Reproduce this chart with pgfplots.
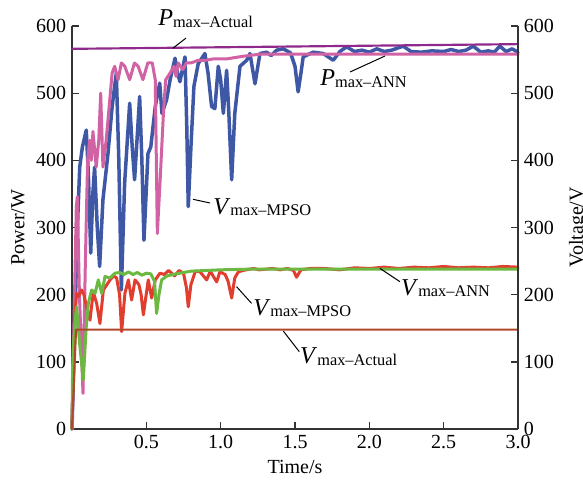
\documentclass[border=0pt]{standalone}
\usepackage{fontspec}
\setmainfont{Liberation Serif}
\usepackage{pgfplots}
\pgfplotsset{compat=1.18}
\definecolor{cblue}{HTML}{3E58A6}
\definecolor{cpink}{HTML}{D163A5}
\definecolor{cpurple}{HTML}{8F2A8C}
\definecolor{cred}{HTML}{E23E30}
\definecolor{cgreen}{HTML}{6CB840}
\definecolor{cbrown}{HTML}{B0482C}
\newcommand{\lab}[2]{{\fontsize{14.5}{16}\selectfont\textit{#1}}\raisebox{-1pt}{\fontsize{9.8}{11}\selectfont #2}}
\begin{document}
\begin{tikzpicture}
\pgfplotsset{
  base/.style={
    at={(0pt,0pt)}, anchor=south west, scale only axis,
    width=267.6pt, height=241.8pt,
    xmin=0, xmax=3, ymin=0, ymax=600,
    tick align=inside, major tick length=4pt,
    ytick={0,100,...,600},
    /pgf/number format/assume math mode=true,
    tick label style={font=\fontsize{12}{14}\selectfont},
    label style={font=\fontsize{12}{14}\selectfont},
    axis line style={line width=0.8pt, black!80},
    every tick/.style={line width=0.8pt, black!80},
  }
}
\begin{axis}[base,
  axis x line*=bottom, axis y line*=left,
  xtick={0.5,1.0,1.5,2.0,2.5,3.0},
  xticklabel style={/pgf/number format/.cd, fixed, fixed zerofill, precision=1},
  xlabel={Time/s}, ylabel={Power/W},
  xlabel style={at={(axis description cs:0.5,-0.0943)}, anchor=center},
  ylabel style={at={(axis description cs:-0.121,0.5)}, anchor=center},
  every axis plot/.append style={line join=round, line cap=round},
  clip=false]
% P max MPSO (blue)
\addplot[cblue, line width=2.1pt] coordinates {
(0,0) (0.030,250) (0.040,321) (0.052,390) (0.070,420) (0.096,445) (0.110,380)
(0.126,262) (0.140,350) (0.152,390) (0.170,300) (0.186,242) (0.208,341) (0.242,410)
(0.270,480) (0.298,530) (0.315,400) (0.332,207) (0.354,366) (0.388,485) (0.405,420)
(0.421,371) (0.455,495) (0.470,400) (0.484,281) (0.511,410) (0.530,420) (0.560,480)
(0.590,515) (0.605,470) (0.636,490) (0.660,520) (0.693,552) (0.710,530) (0.726,517)
(0.760,554) (0.772,450) (0.782,331) (0.800,420) (0.820,510) (0.849,544) (0.894,559)
(0.915,530) (0.939,480) (0.961,477) (0.984,540) (1.000,520) (1.018,470) (1.040,534)
(1.055,470) (1.074,371) (1.095,470) (1.130,540) (1.175,549) (1.197,559) (1.231,514)
(1.264,559) (1.309,561) (1.340,556) (1.376,564) (1.421,566) (1.470,560) (1.500,540)
(1.521,502) (1.540,530) (1.555,554) (1.622,561) (1.690,559) (1.757,549) (1.802,562)
(1.847,569) (1.900,562) (1.950,564) (2.000,561) (2.050,566) (2.100,562) (2.150,564)
(2.228,570) (2.280,562) (2.350,561) (2.420,563) (2.500,562) (2.550,565) (2.600,562)
(2.650,564) (2.699,570) (2.750,561) (2.800,563) (2.840,561) (2.878,570) (2.920,562)
(2.960,566) (3.000,561)
};
% P max ANN (pink)
\addplot[cpink, line width=1.8pt] coordinates {
(0,0) (0.010,120) (0.029,331) (0.036,346) (0.050,200) (0.074,53) (0.090,250)
(0.105,400) (0.119,430) (0.130,400) (0.141,443) (0.163,390) (0.180,430) (0.193,500)
(0.208,390) (0.230,430) (0.250,480) (0.270,530) (0.287,540) (0.310,520) (0.332,545)
(0.355,540) (0.388,520) (0.420,545) (0.445,540) (0.477,520) (0.510,545) (0.540,545)
(0.560,520) (0.574,291) (0.595,380) (0.615,470) (0.630,520) (0.660,530) (0.686,540)
(0.700,525) (0.715,545) (0.745,535) (0.770,545) (0.800,545) (0.850,549) (0.900,549)
(0.950,551) (1.040,551) (1.152,555) (1.264,558) (3.000,558)
};
% P max Actual (purple)
\addplot[cpurple, line width=1.3pt] coordinates {(0,566) (3,573)};
% V max MPSO (red)
\addplot[cred, line width=1.8pt] coordinates {
(0,0) (0.010,100) (0.020,170) (0.031,202) (0.043,197) (0.065,207) (0.080,200)
(0.100,180) (0.121,162) (0.143,204) (0.166,187) (0.188,157) (0.211,207) (0.235,215)
(0.256,222) (0.280,228) (0.300,225) (0.320,200) (0.334,145) (0.356,202) (0.379,222)
(0.401,192) (0.424,222) (0.450,215) (0.465,200) (0.480,170) (0.513,222) (0.536,195)
(0.560,222) (0.592,232) (0.620,230) (0.650,236) (0.690,228) (0.720,236) (0.750,232)
(0.770,210) (0.782,182) (0.800,215) (0.830,235) (0.861,234) (0.906,222) (0.930,235)
(0.973,219) (0.995,234) (1.030,230) (1.050,220) (1.074,195) (1.095,225) (1.119,234)
(1.150,236) (1.220,239) (1.260,237) (1.350,239) (1.400,237) (1.450,239) (1.490,236)
(1.510,226) (1.540,237) (1.600,239) (1.700,239) (1.800,237) (1.900,240) (2.000,239)
(2.100,241) (2.200,239) (2.300,241) (2.400,240) (2.500,242) (2.600,240) (2.700,241)
(2.800,240) (2.900,242) (3.000,241)
};
% V max ANN (green)
\addplot[cgreen, line width=1.8pt] coordinates {
(0,0) (0.004,90) (0.009,122) (0.020,160) (0.031,182) (0.050,130) (0.076,73)
(0.095,150) (0.110,187) (0.132,207) (0.155,202) (0.177,222) (0.200,202) (0.222,227)
(0.256,225) (0.289,232) (0.320,233) (0.350,230) (0.380,234) (0.410,230) (0.440,233)
(0.470,229) (0.500,232) (0.530,231) (0.555,220) (0.569,172) (0.585,200) (0.603,222)
(0.640,228) (0.700,231) (0.800,235) (0.900,236) (1.000,237) (1.200,238) (3.000,238)
};
% V max Actual (brown)
\addplot[cbrown, line width=1.3pt] coordinates {(0,0) (0.027,148) (3,148)};
% annotations
\node[anchor=base west, inner sep=0] at (axis cs:0.578,600) {\lab{P}{max--Actual}};
\draw[line width=0.6pt] (axis cs:0.679,567) -- (axis cs:0.767,582);
\node[anchor=base west, inner sep=0] at (axis cs:1.668,510.7) {\lab{P}{max--ANN}};
\draw[line width=0.6pt] (axis cs:1.870,531.5) -- (axis cs:2.105,555.3);
\node[anchor=base west, inner sep=0] at (axis cs:0.948,320) {\lab{V}{max--MPSO}};
\draw[line width=0.6pt] (axis cs:0.814,342) -- (axis cs:0.928,336.5);
\node[anchor=base west, inner sep=0] at (axis cs:1.217,169.7) {\lab{V}{max--MPSO}};
\draw[line width=0.6pt] (axis cs:1.107,211.9) -- (axis cs:1.208,187);
\node[anchor=base west, inner sep=0] at (axis cs:2.212,199.5) {\lab{V}{max--ANN}};
\draw[line width=0.6pt] (axis cs:2.071,239.2) -- (axis cs:2.206,219.3);
\node[anchor=base west, inner sep=0] at (axis cs:1.533,96.8) {\lab{V}{max--Actual}};
\draw[line width=0.6pt] (axis cs:1.421,145.9) -- (axis cs:1.529,115.1);
\end{axis}
\begin{axis}[base,
  axis x line=none, axis y line*=right,
  ylabel={Voltage/V},
  ylabel style={at={(axis description cs:1.1345,0.5)}, anchor=center}]
\addplot[draw=none] coordinates {(0,0)};
\end{axis}
\pgfresetboundingbox
\path[use as bounding box] (-43.2pt,-32.4pt) rectangle (306.6pt,257.4pt);
\end{tikzpicture}
\end{document}
